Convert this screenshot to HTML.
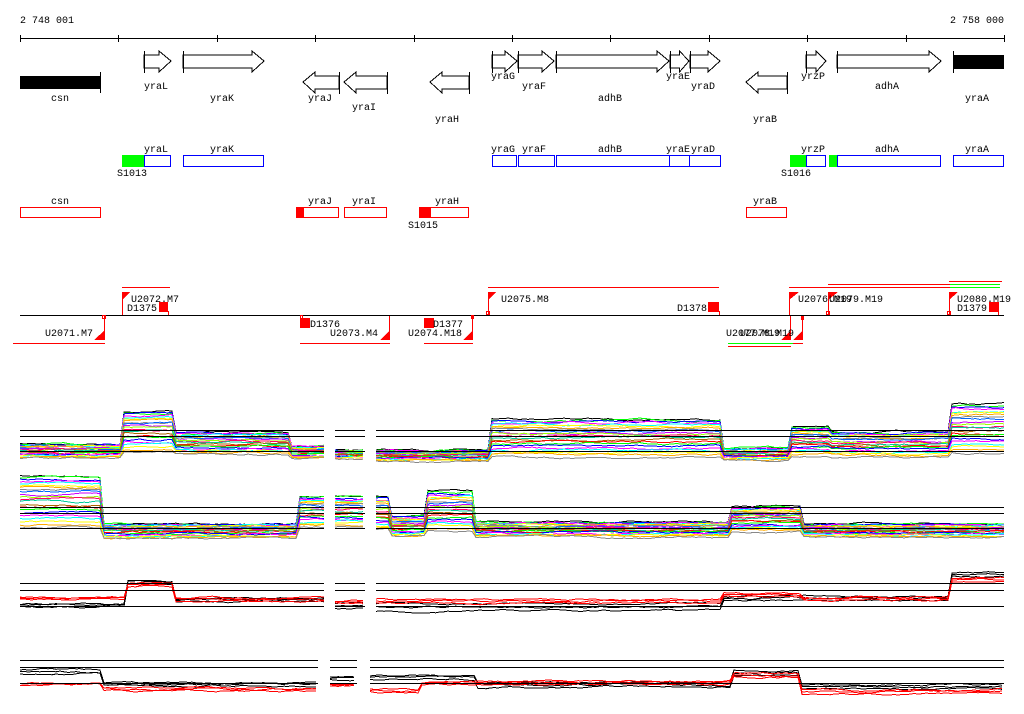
<!DOCTYPE html>
<html><head><meta charset="utf-8"><style>
html,body{margin:0;padding:0;background:#fff;width:1024px;height:714px;overflow:hidden}
svg text{font-family:"Liberation Mono","DejaVu Sans Mono",monospace;font-size:10px;fill:#000}
</style></head><body>
<svg id="s" width="1024" height="714" viewBox="0 0 1024 714" xmlns="http://www.w3.org/2000/svg" shape-rendering="crispEdges">
<rect width="1024" height="714" fill="#fff"/>
<text x="20" y="23">2 748 001</text>
<text x="1004" y="23" text-anchor="end">2 758 000</text>
<line x1="20" y1="38.5" x2="1004" y2="38.5" stroke="#000"/>
<g id="ticks" stroke="#000"></g>
<g id="genes" fill="#fff" stroke="#000"></g>
<rect x="20" y="76" width="80" height="13" fill="#000"/>
<line x1="100.5" y1="72" x2="100.5" y2="93" stroke="#000"/>
<rect x="953" y="55" width="51" height="14" fill="#000"/>
<line x1="953.5" y1="51" x2="953.5" y2="73" stroke="#000"/>
<g>
<text x="156" y="89" text-anchor="middle">yraL</text>
<text x="222" y="101" text-anchor="middle">yraK</text>
<text x="60" y="101" text-anchor="middle">csn</text>
<text x="320" y="101" text-anchor="middle">yraJ</text>
<text x="364" y="110" text-anchor="middle">yraI</text>
<text x="447" y="122" text-anchor="middle">yraH</text>
<text x="503" y="79" text-anchor="middle">yraG</text>
<text x="534" y="89" text-anchor="middle">yraF</text>
<text x="610" y="101" text-anchor="middle">adhB</text>
<text x="678" y="79" text-anchor="middle">yraE</text>
<text x="703" y="89" text-anchor="middle">yraD</text>
<text x="765" y="122" text-anchor="middle">yraB</text>
<text x="813" y="79" text-anchor="middle">yrzP</text>
<text x="887" y="89" text-anchor="middle">adhA</text>
<text x="977" y="101" text-anchor="middle">yraA</text>
</g>
<g fill="#0f0"><rect x="122" y="155" width="22" height="12"/><rect x="790" y="155" width="16" height="12"/><rect x="829" y="155" width="8" height="12"/></g>
<g fill="none" stroke="#00f">
<rect x="144.5" y="155.5" width="26" height="11"/><rect x="183.5" y="155.5" width="80" height="11"/>
<rect x="492.5" y="155.5" width="24" height="11"/><rect x="518.5" y="155.5" width="36" height="11"/>
<rect x="556.5" y="155.5" width="113" height="11"/><rect x="669.5" y="155.5" width="20" height="11"/>
<rect x="689.5" y="155.5" width="31" height="11"/>
<rect x="806.5" y="155.5" width="19" height="11"/><rect x="837.5" y="155.5" width="103" height="11"/>
<rect x="953.5" y="155.5" width="50" height="11"/>
</g>
<g>
<text x="156" y="152" text-anchor="middle">yraL</text><text x="222" y="152" text-anchor="middle">yraK</text>
<text x="503" y="152" text-anchor="middle">yraG</text><text x="534" y="152" text-anchor="middle">yraF</text>
<text x="610" y="152" text-anchor="middle">adhB</text><text x="678" y="152" text-anchor="middle">yraE</text>
<text x="703" y="152" text-anchor="middle">yraD</text><text x="813" y="152" text-anchor="middle">yrzP</text>
<text x="887" y="152" text-anchor="middle">adhA</text><text x="977" y="152" text-anchor="middle">yraA</text>
<text x="117" y="176">S1013</text><text x="781" y="176">S1016</text>
</g>
<g fill="#f00"><rect x="296" y="207" width="8" height="11"/><rect x="419" y="207" width="12" height="11"/></g>
<g fill="none" stroke="#f00">
<rect x="20.5" y="207.5" width="80" height="10"/><rect x="296.5" y="207.5" width="42" height="10"/>
<rect x="344.5" y="207.5" width="42" height="10"/><rect x="419.5" y="207.5" width="49" height="10"/>
<rect x="746.5" y="207.5" width="40" height="10"/>
</g>
<g>
<text x="60" y="204" text-anchor="middle">csn</text><text x="320" y="204" text-anchor="middle">yraJ</text>
<text x="364" y="204" text-anchor="middle">yraI</text><text x="447" y="204" text-anchor="middle">yraH</text>
<text x="765" y="204" text-anchor="middle">yraB</text><text x="408" y="228">S1015</text>
</g>
<line x1="20" y1="315.5" x2="1004" y2="315.5" stroke="#000"/>
<g stroke="#f00" fill="none">
<line x1="122" y1="287.5" x2="170" y2="287.5"/><line x1="122.5" y1="292" x2="122.5" y2="315"/>
<line x1="488" y1="287.5" x2="719" y2="287.5"/><line x1="488.5" y1="292" x2="488.5" y2="315"/>
<line x1="789" y1="287.5" x2="1000" y2="287.5"/><line x1="789.5" y1="292" x2="789.5" y2="315"/>
<line x1="828" y1="284.5" x2="950" y2="284.5"/><line x1="828.5" y1="292" x2="828.5" y2="315"/>
<line x1="949" y1="281.5" x2="1002" y2="281.5"/><line x1="949.5" y1="292" x2="949.5" y2="315"/>
<line x1="13" y1="343.5" x2="105" y2="343.5"/><line x1="104.5" y1="316" x2="104.5" y2="340"/>
<line x1="300" y1="343.5" x2="390" y2="343.5"/><line x1="389.5" y1="316" x2="389.5" y2="340"/>
<line x1="424" y1="343.5" x2="473" y2="343.5"/><line x1="472.5" y1="316" x2="472.5" y2="340"/>
<line x1="728" y1="346.5" x2="791" y2="346.5"/><line x1="790.5" y1="316" x2="790.5" y2="340"/>
<line x1="793" y1="343.5" x2="803" y2="343.5"/><line x1="802.5" y1="316" x2="802.5" y2="340"/>
<line x1="168.5" y1="311" x2="168.5" y2="315"/><line x1="719.5" y1="311" x2="719.5" y2="315"/><line x1="998.5" y1="311" x2="998.5" y2="315"/>
<rect x="102.5" y="315.5" width="3" height="3"/><rect x="486.5" y="311.5" width="3" height="3"/><rect x="826.5" y="311.5" width="3" height="3"/><rect x="947.5" y="311.5" width="3" height="3"/><rect x="300.5" y="315.5" width="2" height="3"/><rect x="471.5" y="315.5" width="2" height="3"/>
</g>
<g stroke="#0f0"><line x1="950" y1="284.5" x2="1000" y2="284.5"/><line x1="950" y1="287.5" x2="1000" y2="287.5"/><line x1="728" y1="343.5" x2="793" y2="343.5"/></g>
<g fill="#f00">
<polygon points="122,292 130,292 122,300"/><polygon points="488,292 496,292 488,300"/><polygon points="789,292 799,292 789,300"/><polygon points="828,292 838,292 828,300"/><polygon points="949,292 958,292 949,300"/>
<polygon points="105,330 105,340 94,340"/><polygon points="390,330 390,340 380,340"/><polygon points="473,330 473,340 463,340"/><polygon points="791,330 791,340 781,340"/><polygon points="803,330 803,340 793,340"/>
<rect x="159" y="302" width="9" height="10"/><rect x="708" y="302" width="11" height="10"/><rect x="989" y="302" width="10" height="10"/>
<rect x="300" y="318" width="10" height="10"/><rect x="424" y="318" width="10" height="10"/><rect x="801" y="316" width="3" height="4"/>
</g>
<g>
<text x="131" y="302">U2072.M7</text><text x="127" y="311">D1375</text>
<text x="501" y="302">U2075.M8</text><text x="677" y="311">D1378</text>
<text x="798" y="302">U2076.M19</text><text x="829" y="302">U2079.M19</text>
<text x="957" y="302">U2080.M19</text><text x="957" y="311">D1379</text>
<text x="45" y="336">U2071.M7</text><text x="310" y="327">D1376</text><text x="330" y="336">U2073.M4</text>
<text x="433" y="327">D1377</text><text x="408" y="336">U2074.M18</text>
<text x="726" y="336">U2077.M19</text><text x="740" y="336">U2078.M19</text>
</g>
<g id="plots"></g>
</svg>
<script>
(function(){
var NS="http://www.w3.org/2000/svg";
function el(p,t,a){var e=document.createElementNS(NS,t);for(var k in a)e.setAttribute(k,a[k]);p.appendChild(e);return e;}
var tk=document.getElementById('ticks');
for(var i=0;i<=10;i++){var x=Math.round(20+i*98.4)+0.5;el(tk,'line',{x1:x,y1:35,x2:x,y2:42});}
var g=document.getElementById('genes');
function fwd(a,b){var c=61,h=Math.min(12,(b-a)*0.5);el(g,'polygon',{points:[a,55,b-h,55,b-h,51,b,c,b-h,72,b-h,68,a,68].join(' ')});el(g,'line',{x1:a+.5,y1:51,x2:a+.5,y2:73});}
function rev(a,b){var c=82,h=Math.min(12,(b-a)*0.5);el(g,'polygon',{points:[b,76,a+h,76,a+h,72,a,c,a+h,93,a+h,89,b,89].join(' ')});el(g,'line',{x1:b+.5,y1:72,x2:b+.5,y2:94});}
fwd(144,171);fwd(183,264);rev(303,339);rev(344,387);rev(430,469);fwd(492,517);fwd(518,554);fwd(556,669);fwd(670,689);fwd(690,720);rev(746,787);fwd(806,826);fwd(837,941);
var P=document.getElementById('plots');
var seed=7;function rnd(){seed=(seed*16807)%2147483647;return seed/2147483647;}
var cols=['#f00','#0f0','#00f','#f0f','#0ff','#ff0','#fa0','#888','#06f','#c0f','#9f0','#f06','#0c9','#a60'];
function prof(segs,x){for(var i=0;i<segs.length;i++){var s=segs[i];if(x>=s[0]&&x<=s[1])return s;}return null;}
function bundle(segs,ranges,n,colors,topBlack){
 for(var j=0;j<n;j++){var f=n>1?j/(n-1):0;f=f*f*0.3+f*0.7;var col=(topBlack&&j==0)?'#000':colors[j%colors.length];
  ranges.forEach(function(r){var pts=[];var off=0;
   for(var x=r[0];x<=r[1];x+=4){var s=prof(segs,x);if(!s)continue;off+=(rnd()-0.5)*1.6;off*=0.85;var y=s[2]+(s[3]-s[2])*f+off;pts.push(x+','+y.toFixed(1));}
   el(P,'polyline',{points:pts.join(' '),fill:'none',stroke:col,'stroke-width':1});});
 }}
function hl(ys,ranges){ys.forEach(function(y){ranges.forEach(function(r){el(P,'line',{x1:r[0],y1:y+.5,x2:r[1],y2:y+.5,stroke:'#000'});});});}
var R1=[[20,324],[335,365],[376,1004]];
bundle([[20,122,444,458],[123,172,411,452],[173,290,432,454],[291,324,446,458],[335,365,450,459],[376,489,450,461],[490,720,419,457],[721,790,448,460],[791,830,427,456],[831,950,432,457],[951,1004,404,453]],R1,22,cols,true);
hl([430,436,451],R1);
bundle([[20,100,476,528],[101,298,524,538],[299,324,496,527],[335,365,496,527],[376,390,496,530],[391,424,516,537],[425,472,491,531],[473,728,522,537],[729,800,506,532],[801,1004,524,537]],R1,22,cols,true);
hl([507,513,528],R1);
var bk=['#000'],rd=['#f00'];
var s3b=[[20,124,604,607],[125,172,581,584],[173,324,598,602],[335,365,604,609],[376,720,604,611],[721,800,597,601],[801,950,596,601],[951,1004,573,577]];
var s3r=[[20,124,597,599],[125,172,583,586],[173,324,598,601],[335,365,601,603],[376,720,599,603],[721,800,593,596],[801,950,597,600],[951,1004,578,582]];
bundle(s3b,R1,3,bk);bundle(s3r,R1,3,rd);
hl([583,590,606],R1);
var R4=[[20,318],[330,357],[370,1004]];
var s4b=[[20,100,670,674],[101,318,683,686],[330,357,677,680],[370,420,676,680],[421,475,676,679],[476,730,683,687],[731,800,671,675],[801,1004,685,689]];
var s4r=[[20,100,683,685],[101,318,688,691],[330,357,684,686],[370,420,689,692],[421,475,682,684],[476,730,681,684],[731,800,674,677],[801,1004,690,694]];
bundle(s4b,R4,3,bk);bundle(s4r,R4,3,rd);
hl([660,667,683],R4);
})();
</script>
</body></html>
